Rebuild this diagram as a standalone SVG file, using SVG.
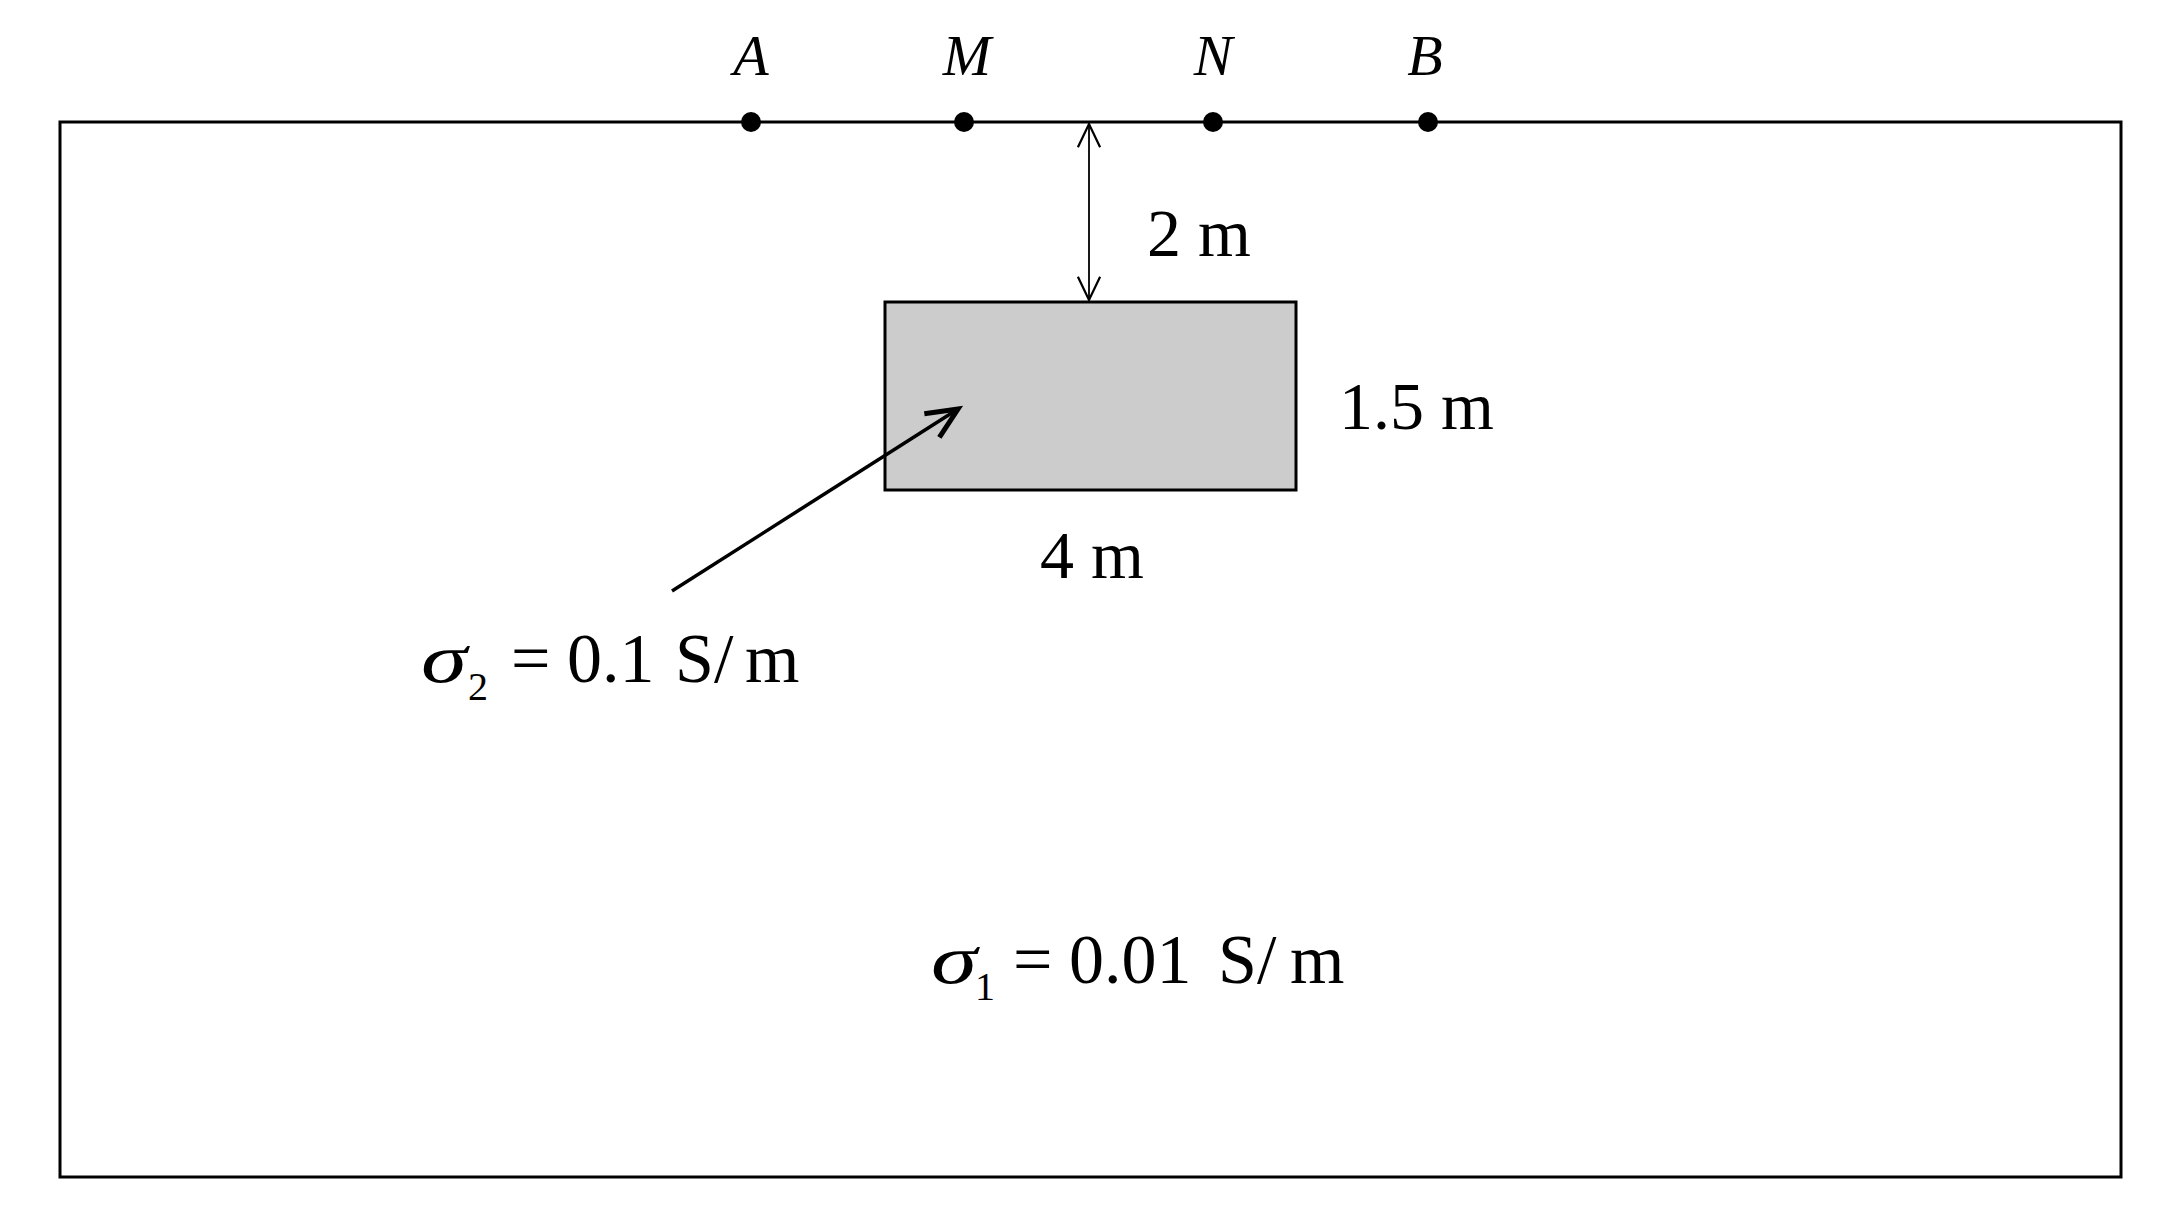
<svg xmlns="http://www.w3.org/2000/svg" width="2171" height="1222" viewBox="0 0 2171 1222">
<style>
.serif{font-family:"Liberation Serif","Times New Roman",serif;fill:#000}
.it{font-style:italic}
.lbl{font-size:58px}
.dim{font-size:68px}
.eq{font-size:70px}
.sub{font-size:40px}
.line{fill:none;stroke:#000}
</style>
<defs>
<marker id="vhead" markerUnits="userSpaceOnUse" markerWidth="30" markerHeight="30" refX="0" refY="0" viewBox="-25 -12 27 24" orient="auto-start-reverse" overflow="visible">
<path d="M-21,-10 L0,0 L-21,10" fill="none" stroke="#000" stroke-width="2"/>
</marker>
<marker id="bighead" markerUnits="userSpaceOnUse" markerWidth="40" markerHeight="40" refX="0" refY="0" viewBox="-36 -16 40 32" orient="auto" overflow="visible">
<path d="M-31,-14 L0,0 L-31,14" fill="none" stroke="#000" stroke-width="5" stroke-linejoin="miter" stroke-miterlimit="10"/>
</marker>
</defs>
<rect width="2171" height="1222" fill="#fff"/>
<g id="domain">
<rect x="60" y="122" width="2061" height="1055" class="line" stroke-width="3"/>
</g>
<g id="body">
<rect x="885" y="302" width="411" height="188" fill="#cccccc" stroke="#000" stroke-width="3"/>
</g>
<g id="electrodes">
<circle cx="751" cy="122" r="10" fill="#000"/>
<circle cx="964" cy="122" r="10" fill="#000"/>
<circle cx="1213" cy="122" r="10" fill="#000"/>
<circle cx="1428" cy="122" r="10" fill="#000"/>
<text class="serif it lbl" x="751" y="75" text-anchor="middle">A</text>
<text class="serif it lbl" x="967" y="75" text-anchor="middle">M</text>
<text class="serif it lbl" x="1213" y="75" text-anchor="middle">N</text>
<text class="serif it lbl" x="1425" y="75" text-anchor="middle">B</text>
</g>
<g id="connectors">
<line x1="1089" y1="124" x2="1089" y2="300" class="line" stroke-width="1.8" marker-start="url(#vhead)" marker-end="url(#vhead)"/>
<line x1="672" y1="591" x2="958" y2="409" class="line" stroke-width="3.5" marker-end="url(#bighead)"/>
</g>
<g id="labels">
<text class="serif dim" x="1147" y="256">2 m</text>
<text class="serif dim" x="1339" y="429">1.5 m</text>
<text class="serif dim" x="1040" y="578">4 m</text>
<text class="serif eq it" x="421" y="682" textLength="46" lengthAdjust="spacingAndGlyphs">σ</text>
<text class="serif eq" y="682"><tspan class="sub" x="468" y="700">2</tspan><tspan x="511" y="682">=</tspan><tspan x="567">0.1</tspan><tspan x="675">S/</tspan><tspan x="745">m</tspan></text>
<text class="serif eq it" x="931" y="983" textLength="46" lengthAdjust="spacingAndGlyphs">σ</text>
<text class="serif eq" y="983"><tspan class="sub" x="975" y="1000">1</tspan><tspan x="1013" y="983">=</tspan><tspan x="1069">0.01</tspan><tspan x="1218">S/</tspan><tspan x="1290">m</tspan></text>
</g>
</svg>
